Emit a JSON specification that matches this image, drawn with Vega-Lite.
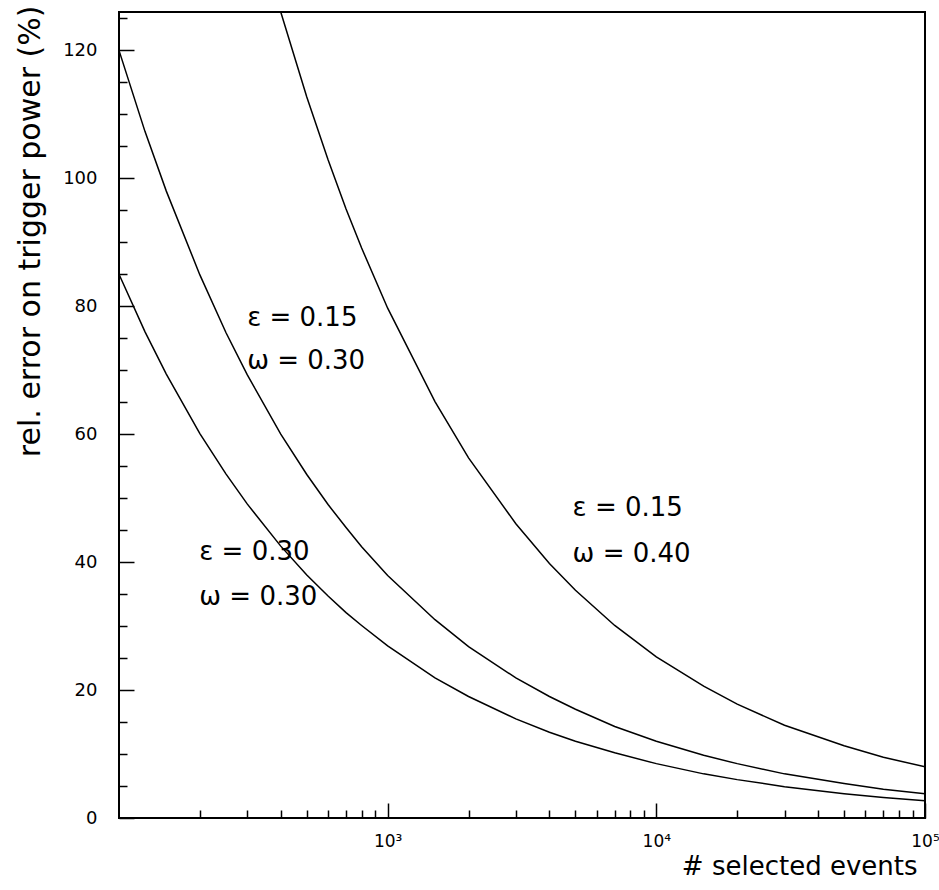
{
  "$schema": "https://vega.github.io/schema/vega-lite/v6.json",
  "width": 806,
  "height": 806,
  "autosize": {"type": "none"},
  "padding": {"left": 119, "top": 12, "right": 14, "bottom": 72},
  "background": "white",
  "config": {
    "view": {"stroke": "black", "strokeWidth": 2},
    "font": "DejaVu Sans",
    "axis": {"grid": false, "domain": false, "tickColor": "black", "labelColor": "black", "titleColor": "black"}
  },
  "datasets": {
    "curves": [
      {"curve": "A", "N": 100, "err": 85},
      {"curve": "A", "N": 125, "err": 76.0},
      {"curve": "A", "N": 150, "err": 69.4},
      {"curve": "A", "N": 200, "err": 60.1},
      {"curve": "A", "N": 250, "err": 53.8},
      {"curve": "A", "N": 300, "err": 49.1},
      {"curve": "A", "N": 400, "err": 42.5},
      {"curve": "A", "N": 500, "err": 38.0},
      {"curve": "A", "N": 600, "err": 34.7},
      {"curve": "A", "N": 700, "err": 32.1},
      {"curve": "A", "N": 800, "err": 30.1},
      {"curve": "A", "N": 1000, "err": 26.9},
      {"curve": "A", "N": 1500, "err": 21.9},
      {"curve": "A", "N": 2000, "err": 19.0},
      {"curve": "A", "N": 3000, "err": 15.5},
      {"curve": "A", "N": 4000, "err": 13.4},
      {"curve": "A", "N": 5000, "err": 12.0},
      {"curve": "A", "N": 7000, "err": 10.2},
      {"curve": "A", "N": 10000, "err": 8.5},
      {"curve": "A", "N": 15000, "err": 6.9},
      {"curve": "A", "N": 20000, "err": 6.0},
      {"curve": "A", "N": 30000, "err": 4.9},
      {"curve": "A", "N": 50000, "err": 3.8},
      {"curve": "A", "N": 70000, "err": 3.2},
      {"curve": "A", "N": 100000, "err": 2.7},
      {"curve": "B", "N": 100, "err": 120},
      {"curve": "B", "N": 125, "err": 107.3},
      {"curve": "B", "N": 150, "err": 98.0},
      {"curve": "B", "N": 200, "err": 84.9},
      {"curve": "B", "N": 250, "err": 75.9},
      {"curve": "B", "N": 300, "err": 69.3},
      {"curve": "B", "N": 400, "err": 60.0},
      {"curve": "B", "N": 500, "err": 53.7},
      {"curve": "B", "N": 600, "err": 49.0},
      {"curve": "B", "N": 700, "err": 45.4},
      {"curve": "B", "N": 800, "err": 42.4},
      {"curve": "B", "N": 1000, "err": 37.9},
      {"curve": "B", "N": 1500, "err": 31.0},
      {"curve": "B", "N": 2000, "err": 26.8},
      {"curve": "B", "N": 3000, "err": 21.9},
      {"curve": "B", "N": 4000, "err": 19.0},
      {"curve": "B", "N": 5000, "err": 17.0},
      {"curve": "B", "N": 7000, "err": 14.3},
      {"curve": "B", "N": 10000, "err": 12.0},
      {"curve": "B", "N": 15000, "err": 9.8},
      {"curve": "B", "N": 20000, "err": 8.5},
      {"curve": "B", "N": 30000, "err": 6.9},
      {"curve": "B", "N": 50000, "err": 5.4},
      {"curve": "B", "N": 70000, "err": 4.5},
      {"curve": "B", "N": 100000, "err": 3.8},
      {"curve": "C", "N": 400, "err": 126},
      {"curve": "C", "N": 500, "err": 112.7},
      {"curve": "C", "N": 600, "err": 102.9},
      {"curve": "C", "N": 700, "err": 95.2},
      {"curve": "C", "N": 800, "err": 89.1},
      {"curve": "C", "N": 1000, "err": 79.7},
      {"curve": "C", "N": 1500, "err": 65.1},
      {"curve": "C", "N": 2000, "err": 56.3},
      {"curve": "C", "N": 3000, "err": 46.0},
      {"curve": "C", "N": 4000, "err": 39.8},
      {"curve": "C", "N": 5000, "err": 35.6},
      {"curve": "C", "N": 7000, "err": 30.1},
      {"curve": "C", "N": 10000, "err": 25.2},
      {"curve": "C", "N": 15000, "err": 20.6},
      {"curve": "C", "N": 20000, "err": 17.8},
      {"curve": "C", "N": 30000, "err": 14.5},
      {"curve": "C", "N": 50000, "err": 11.3},
      {"curve": "C", "N": 70000, "err": 9.5},
      {"curve": "C", "N": 100000, "err": 8.0}
    ],
    "labels": [
      {"N": 300, "err": 78.1, "label": "ε = 0.15"},
      {"N": 300, "err": 71.4, "label": "ω = 0.30"},
      {"N": 199, "err": 41.6, "label": "ε = 0.30"},
      {"N": 199, "err": 34.5, "label": "ω = 0.30"},
      {"N": 4880, "err": 48.4, "label": "ε = 0.15"},
      {"N": 4880, "err": 41.25, "label": "ω = 0.40"}
    ]
  },
  "resolve": {"axis": {"x": "independent", "y": "independent"}},
  "layer": [
    {
      "data": {"name": "curves"},
      "mark": {"type": "line", "color": "black", "strokeWidth": 1.5, "clip": true},
      "encoding": {
        "x": {
          "field": "N", "type": "quantitative",
          "scale": {"type": "log", "domain": [100, 100000], "nice": false},
          "axis": {
            "orient": "bottom",
            "values": [1000, 10000, 100000],
            "labelExpr": "datum.value == 1000 ? '10³' : datum.value == 10000 ? '10⁴' : '10⁵'",
            "ticks": true, "tickSize": -15, "tickWidth": 1.5,
            "labelPadding": 30, "labelFontSize": 17, "labelFlush": false, "labelOverlap": false,
            "title": "# selected events", "titleFontSize": 26, "titleFontWeight": "normal",
            "titleAnchor": "end", "titleAlign": "right", "titleBaseline": "middle",
            "titleX": 798, "titleY": 48
          }
        },
        "y": {
          "field": "err", "type": "quantitative",
          "scale": {"domain": [0, 126], "nice": false, "zero": false},
          "axis": {
            "orient": "left",
            "values": [0, 20, 40, 60, 80, 100, 120],
            "format": "d",
            "ticks": true, "tickSize": -15, "tickWidth": 1.5,
            "labelPadding": 37, "labelFontSize": 18, "labelBaseline": "middle", "labelFlush": false, "labelOverlap": false,
            "title": "rel. error on trigger power (%)", "titleFontSize": 30, "titleFontWeight": "normal",
            "titleAngle": -90, "titleAnchor": "end", "titleAlign": "right", "titleBaseline": "middle",
            "titleX": -89, "titleY": -7
          }
        },
        "detail": {"field": "curve"}
      }
    },
    {
      "data": {"name": "labels"},
      "mark": {"type": "text", "align": "left", "baseline": "middle", "fontSize": 26, "color": "black"},
      "encoding": {
        "x": {
          "field": "N", "type": "quantitative",
          "axis": {
            "orient": "bottom",
            "values": [200, 300, 400, 500, 600, 700, 800, 900, 2000, 3000, 4000, 5000, 6000, 7000, 8000, 9000, 20000, 30000, 40000, 50000, 60000, 70000, 80000, 90000],
            "labels": false, "ticks": true, "tickSize": -8, "tickWidth": 1.5, "title": null
          }
        },
        "y": {
          "field": "err", "type": "quantitative",
          "axis": {
            "orient": "left",
            "values": [5, 10, 15, 25, 30, 35, 45, 50, 55, 65, 70, 75, 85, 90, 95, 105, 110, 115, 125],
            "labels": false, "ticks": true, "tickSize": -8, "tickWidth": 1.5, "title": null
          }
        },
        "text": {"field": "label"}
      }
    }
  ]
}
